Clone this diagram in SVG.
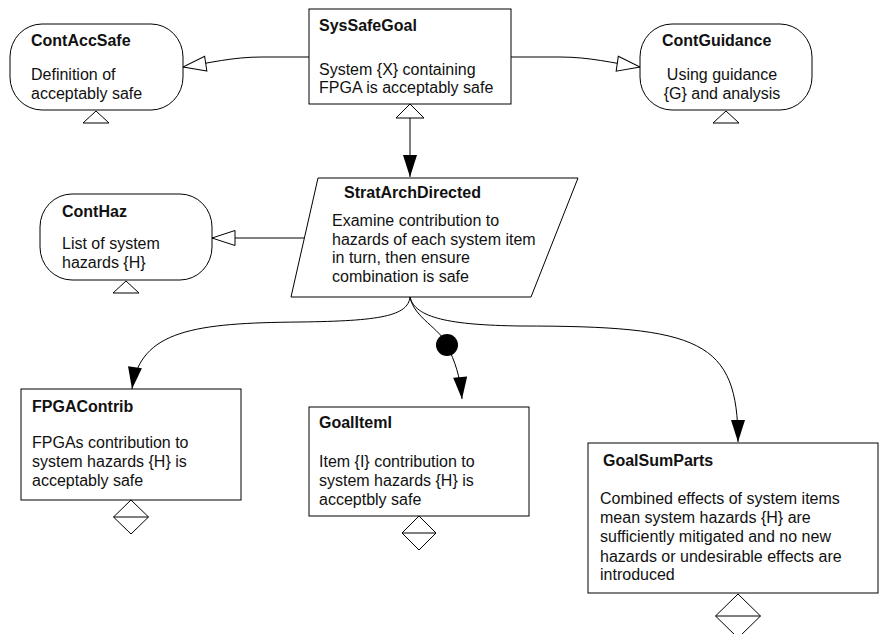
<svg xmlns="http://www.w3.org/2000/svg" width="880" height="634" viewBox="0 0 880 634">
<style>
.box{fill:#fff;stroke:#000;stroke-width:1}
.ln{fill:none;stroke:#000;stroke-width:1}
text{font-family:"Liberation Sans",Arial,sans-serif;font-size:16px;fill:#111}
.t{font-weight:bold}
.c{text-anchor:middle}
</style>
<defs>
<marker id="af" markerUnits="userSpaceOnUse" markerWidth="24" markerHeight="16" refX="22" refY="7" orient="auto" overflow="visible"><path d="M0,0 L22,7 L0,14 z" fill="#000"/></marker>
<marker id="ah" markerUnits="userSpaceOnUse" markerWidth="25" markerHeight="17" refX="23" refY="7.5" orient="auto" overflow="visible"><path d="M0,0 L23,7.5 L0,15 z" fill="#fff" stroke="#000" stroke-width="1"/></marker>
<marker id="as" markerUnits="userSpaceOnUse" markerWidth="16" markerHeight="30" refX="14" refY="14" orient="auto-start-reverse" overflow="visible"><path d="M0,0 L14,14 L0,28 z" fill="#fff" stroke="#000" stroke-width="1"/></marker>
</defs>
<g id="connectors">
<path class="ln" d="M309,57 L262,57 C232,57 210,63 183,67" marker-end="url(#ah)"/>
<path class="ln" d="M511,57 L560,57 C590,57 612,63 640,67" marker-end="url(#ah)"/>
<path class="ln" d="M410,104 L410,177" marker-start="url(#as)" marker-end="url(#af)"/>
<path class="ln" d="M305,238 L212,238" marker-end="url(#ah)"/>
<path class="ln" d="M410,297 C408,316 380,321 300,322 C195,323 140,330 132,389" marker-end="url(#af)"/>
<path class="ln" d="M410,297 C414,318 440,328 447,345 C455,362 460,375 462,399" marker-end="url(#af)"/>
<circle cx="447" cy="345" r="11" fill="#000"/>
<path class="ln" d="M410,297 C415,318 450,325 520,326 C700,326 738,340 738,442" marker-end="url(#af)"/>
</g>
<g id="SysSafeGoal">
<rect class="box" x="309" y="9" width="202" height="95"/>
<text class="t" x="319" y="31">SysSafeGoal</text>
<text x="319" y="75">System {X} containing</text>
<text x="319" y="93">FPGA is acceptably safe</text>
</g>
<g id="ContAccSafe">
<rect class="box" x="10" y="24" width="173" height="86" rx="32" ry="33"/>
<polygon class="box" points="96,111 83,123 109,123"/>
<text class="t" x="31" y="46">ContAccSafe</text>
<text x="31" y="80">Definition of</text>
<text x="31" y="99">acceptably safe</text>
</g>
<g id="ContGuidance">
<rect class="box" x="640" y="24" width="172" height="86" rx="32" ry="33"/>
<polygon class="box" points="726,111 713,123 739,123"/>
<text class="t" x="662" y="46">ContGuidance</text>
<text class="c" x="722" y="80">Using guidance</text>
<text class="c" x="722" y="99">{G} and analysis</text>
</g>
<g id="ContHaz">
<rect class="box" x="40" y="194" width="172" height="86" rx="32" ry="33"/>
<polygon class="box" points="126,281 113,293 139,293"/>
<text class="t" x="62" y="217">ContHaz</text>
<text x="62" y="249">List of system</text>
<text x="62" y="268">hazards {H}</text>
</g>
<g id="StratArchDirected">
<polygon class="box" points="318,178 578,178 531,297 291,297"/>
<text class="t" x="344" y="198">StratArchDirected</text>
<text x="332" y="226">Examine contribution to</text>
<text x="332" y="245">hazards of each system item</text>
<text x="332" y="263">in turn, then ensure</text>
<text x="332" y="282">combination is safe</text>
</g>
<g id="FPGAContrib">
<rect class="box" x="21" y="389" width="220" height="111"/>
<polygon class="box" points="131,500 148.5,517 131,534 113.5,517"/>
<line class="ln" x1="113.5" y1="517" x2="148.5" y2="517"/>
<text class="t" x="32" y="412">FPGAContrib</text>
<text x="32" y="448">FPGAs contribution to</text>
<text x="32" y="467">system hazards {H} is</text>
<text x="32" y="486">acceptably safe</text>
</g>
<g id="GoalItemI">
<rect class="box" x="309" y="407" width="220" height="109"/>
<polygon class="box" points="419,516 436,533 419,550 402,533"/>
<line class="ln" x1="402" y1="533" x2="436" y2="533"/>
<text class="t" x="319" y="428">GoalItemI</text>
<text x="319" y="467">Item {I} contribution to</text>
<text x="319" y="486">system hazards {H} is</text>
<text x="319" y="505">acceptbly safe</text>
</g>
<g id="GoalSumParts">
<rect class="box" x="588" y="443" width="290" height="150"/>
<polygon class="box" points="738,594 760.5,616 738,638 715.5,616"/>
<line class="ln" x1="715.5" y1="616" x2="760.5" y2="616"/>
<text class="t" x="603" y="466">GoalSumParts</text>
<text x="600" y="504">Combined effects of system items</text>
<text x="600" y="523">mean system hazards {H} are</text>
<text x="600" y="542">sufficiently mitigated and no new</text>
<text x="600" y="562">hazards or undesirable effects are</text>
<text x="600" y="580">introduced</text>
</g>
</svg>
